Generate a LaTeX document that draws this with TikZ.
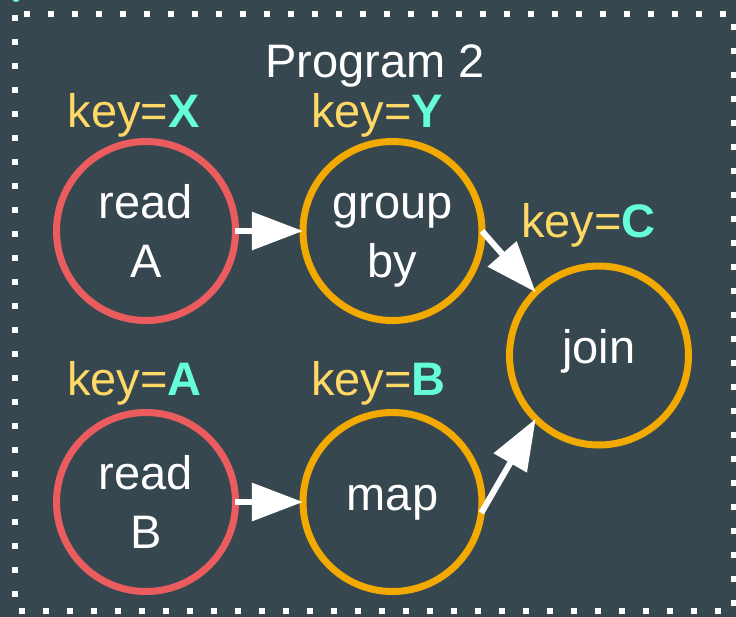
\documentclass[tikz,border=0pt]{standalone}
\usepackage{fontspec}
\setmainfont{Liberation Sans}
\usetikzlibrary{arrows.meta}

\definecolor{slate}{HTML}{37474F}
\definecolor{readred}{HTML}{EB5C5F}
\definecolor{opamber}{HTML}{F2A900}
\definecolor{keyyellow}{HTML}{FFD966}
\definecolor{keycyan}{HTML}{64FFDA}

\newcommand{\diagfont}{\fontsize{23.5}{29.5}\selectfont}

\begin{document}
\begin{tikzpicture}[x=0.5pt,y=-0.5pt,
  stage/.style={circle, draw, line width=3.5pt, minimum size=89.5pt,
    inner sep=0pt, outer sep=0pt, text=white, align=center, font=\diagfont},
  reader/.style={stage, draw=readred},
  op/.style={stage, draw=opamber},
  twoline/.style={text height=52pt, text depth=6pt},
  oneline/.style={text height=14pt, text depth=6pt},
  keylbl/.style={anchor=base, inner sep=0pt, text=keyyellow, font=\diagfont},
  flow/.style={draw=white, line width=3pt,
    -{Triangle[length=25.5pt,width=18.5pt]}}
]
\useasboundingbox (0,0) rectangle (736,617);
\fill[slate] (0,0) rectangle (736,617);

% edge of a neighbouring element peeking in at the top
\fill[keycyan] (16,-2) ellipse[x radius=4, y radius=4];

% dotted frame of the program
\draw[white, line width=3pt, dash pattern=on 3pt off 9pt, dash phase=-0.5pt]
  (15,14) rectangle (734,611);

\node[anchor=base, inner sep=0pt, text=white, font=\diagfont] (title) at (375,77) {Program 2};

% stages
\node[reader, twoline] (ra) at (146,231) {read\\A};
\node[op, twoline]     (gb) at (392.5,231) {group\\by};
\node[reader, twoline] (rb) at (146,502) {read\\B};
\node[op, oneline]     (mp) at (392.5,502) {map};
\node[op, oneline]     (jn) at (599,355.5) {join};

% key annotations
\node[keylbl] (kx) at (133.5,127) {key=\textcolor{keycyan}{\bfseries X}};
\node[keylbl] (ky) at (377,127)   {key=\textcolor{keycyan}{\bfseries Y}};
\node[keylbl] (kc) at (588.5,237) {key=\textcolor{keycyan}{\bfseries C}};
\node[keylbl] (ka) at (134.5,395) {key=\textcolor{keycyan}{\bfseries A}};
\node[keylbl] (kb) at (378.5,395) {key=\textcolor{keycyan}{\bfseries B}};

% data flow
\draw[flow] (ra) -- (gb);
\draw[flow] (rb) -- (mp);
\draw[flow] (gb.east) -- (jn.north west);
\draw[flow] (mp.-7) -- (jn.south west);
\end{tikzpicture}
\end{document}
